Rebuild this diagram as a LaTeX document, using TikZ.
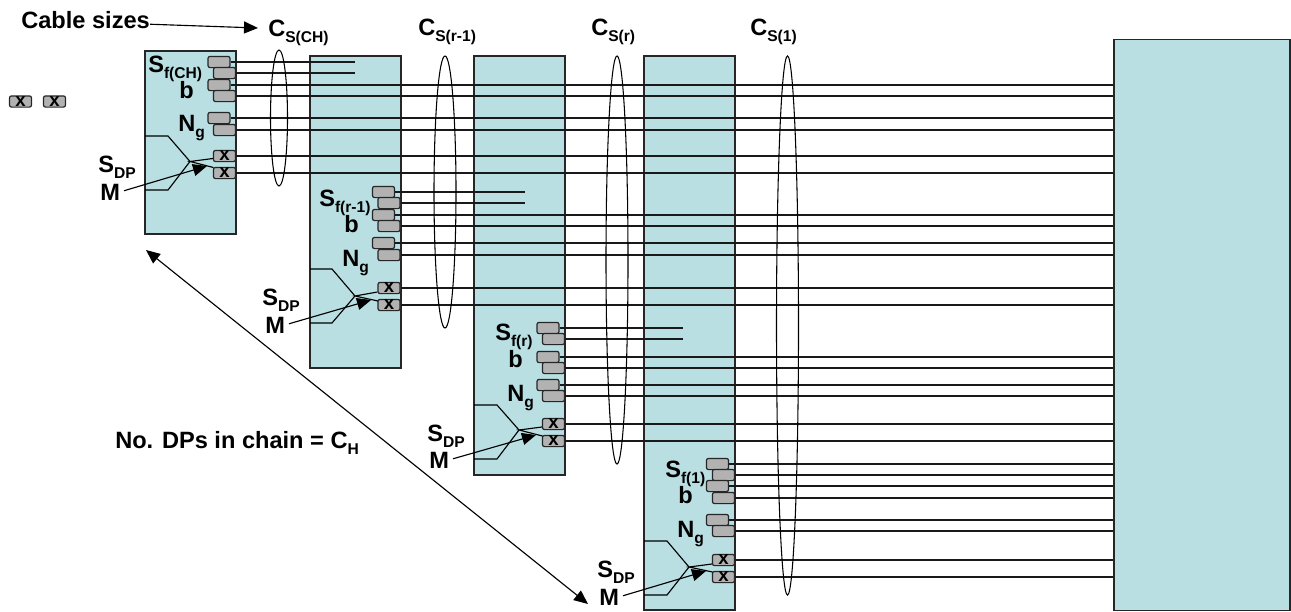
\documentclass[tikz,border=0pt]{standalone}
\usepackage{fontspec}
\setmainfont{Liberation Sans}
\usetikzlibrary{arrows.meta}
\definecolor{dpPanel}{RGB}{185,223,226}
\definecolor{dpChip}{RGB}{178,178,178}
\newcommand{\lowsub}[1]{\raisebox{-4.9pt}{\fontsize{11.7}{12}\selectfont #1}}
\tikzset{
  panelbox/.style={draw=black!85, line width=1.1pt, fill=dpPanel, inner sep=0pt},
  chipbox/.style={draw=black!85, line width=0.9pt, fill=dpChip, rounded corners=1.5pt,
    minimum width=16.5pt, minimum height=8.4pt, inner sep=0pt},
  chipx/.style={chipbox, font=\fontsize{14}{14}\bfseries},
  lbl/.style={anchor=base west, inner sep=0pt, font=\fontsize{17.7}{20}\selectfont\bfseries},
  cableline/.style={line width=0.85pt, black!90},
  thinline/.style={line width=0.85pt, black},
  loopline/.style={line width=0.8pt, black},
  pointer/.style={line width=0.85pt, black, -{Triangle[length=10.5pt,width=9pt]}},
}
\begin{document}
\begin{tikzpicture}[x=0.75pt, y=-0.75pt]
\useasboundingbox (0,0) rectangle (1291,611);
%% Panels
\node[panelbox, minimum width=68.25pt, minimum height=137.25pt] (panelA) at (190.5,142.5) {};
\node[panelbox, minimum width=68.25pt, minimum height=234pt] (panelB) at (355.5,212) {};
\node[panelbox, minimum width=68.25pt, minimum height=314.25pt] (panelC) at (519.5,265.5) {};
\node[panelbox, minimum width=68.25pt, minimum height=415.5pt] (panelD) at (689.5,333) {};
\node[panelbox, minimum width=132pt, minimum height=428pt] (panelBig) at (1202,325) {};
\coordinate (endA) at (355,0);
\coordinate (endB) at (525,0);
\coordinate (endC) at (683,0);
%% Chips of DP 1
\node[chipbox] (a1) at (219,62) {};
\node[chipbox] (a2) at (224.5,73) {};
\node[chipbox] (a3) at (219,85) {};
\node[chipbox] (a4) at (224.5,96) {};
\node[chipbox] (a5) at (219,118) {};
\node[chipbox] (a6) at (224.5,130) {};
\node[chipx] (a7) at (224.5,156) {x};
\node[chipx] (a8) at (224.5,173) {x};
%% Chips of DP 2
\node[chipbox] (b1) at (383.5,192) {};
\node[chipbox] (b2) at (389,203) {};
\node[chipbox] (b3) at (383.5,215) {};
\node[chipbox] (b4) at (389,226) {};
\node[chipbox] (b5) at (383.5,243) {};
\node[chipbox] (b6) at (389,255) {};
\node[chipx] (b7) at (389,288) {x};
\node[chipx] (b8) at (389,305) {x};
%% Chips of DP 3
\node[chipbox] (c1) at (548,328) {};
\node[chipbox] (c2) at (553.5,339) {};
\node[chipbox] (c3) at (548,357) {};
\node[chipbox] (c4) at (553.5,368) {};
\node[chipbox] (c5) at (548,385) {};
\node[chipbox] (c6) at (553.5,396) {};
\node[chipx] (c7) at (553.5,424) {x};
\node[chipx] (c8) at (553.5,441) {x};
%% Chips of DP 4
\node[chipbox] (d1) at (717.5,464) {};
\node[chipbox] (d2) at (723.5,475) {};
\node[chipbox] (d3) at (717.5,486) {};
\node[chipbox] (d4) at (723.5,498) {};
\node[chipbox] (d5) at (717.5,520) {};
\node[chipbox] (d6) at (723.5,531) {};
\node[chipx] (d7) at (723.5,560) {x};
\node[chipx] (d8) at (723.5,577) {x};
%% Legend chips
\node[chipx] (legendA) at (20.5,101.5) {x};
\node[chipx] (legendB) at (54.5,101.5) {x};
%% Cables
\draw[cableline] (a1.east) -- (a1.east -| endA) (a2.east) -- (a2.east -| endA);
\draw[cableline] (a3.east) -- (a3.east -| panelBig.west) (a4.east) -- (a4.east -| panelBig.west)
  (a5.east) -- (a5.east -| panelBig.west) (a6.east) -- (a6.east -| panelBig.west)
  (a7.east) -- (a7.east -| panelBig.west) (a8.east) -- (a8.east -| panelBig.west);
\draw[cableline] (b1.east) -- (b1.east -| endB) (b2.east) -- (b2.east -| endB);
\draw[cableline] (b3.east) -- (b3.east -| panelBig.west) (b4.east) -- (b4.east -| panelBig.west)
  (b5.east) -- (b5.east -| panelBig.west) (b6.east) -- (b6.east -| panelBig.west)
  (b7.east) -- (b7.east -| panelBig.west) (b8.east) -- (b8.east -| panelBig.west);
\draw[cableline] (c1.east) -- (c1.east -| endC) (c2.east) -- (c2.east -| endC);
\draw[cableline] (c3.east) -- (c3.east -| panelBig.west) (c4.east) -- (c4.east -| panelBig.west)
  (c5.east) -- (c5.east -| panelBig.west) (c6.east) -- (c6.east -| panelBig.west)
  (c7.east) -- (c7.east -| panelBig.west) (c8.east) -- (c8.east -| panelBig.west);
\draw[cableline] (d1.east) -- (d1.east -| panelBig.west) (d2.east) -- (d2.east -| panelBig.west)
  (d3.east) -- (d3.east -| panelBig.west) (d4.east) -- (d4.east -| panelBig.west)
  (d5.east) -- (d5.east -| panelBig.west) (d6.east) -- (d6.east -| panelBig.west)
  (d7.east) -- (d7.east -| panelBig.west) (d8.east) -- (d8.east -| panelBig.west);
%% Cable loops
\draw[loopline] (279,118) ellipse (8.5 and 68);
\draw[loopline] (445,192) ellipse (11 and 136);
\draw[loopline] (617,260) ellipse (11 and 204);
\draw[loopline] (787.5,325.5) ellipse (11 and 269.5);
%% Splitters
\coordinate (apexA) at (190,161.5);
\coordinate (apexB) at (355,296);
\coordinate (apexC) at (519,430);
\coordinate (apexD) at (689,567);
\draw[thinline] (145,136) -- (168,136) -- (apexA) -- (168,190) -- (145,190);
\draw[thinline] (a7.west |- 0,158.5) -- (apexA) -- (213.5,167.5);
\draw[thinline] (310,269) -- (332,269) -- (apexB) -- (332,323) -- (310,323);
\draw[thinline] (b7.west |- 0,292) -- (apexB) -- (378,301);
\draw[thinline] (474,405) -- (497,405) -- (apexC) -- (497,459) -- (474,459);
\draw[thinline] (c7.west |- 0,427) -- (apexC) -- (542.5,436);
\draw[thinline] (644,541) -- (667,541) -- (apexD) -- (667,595) -- (644,595);
\draw[thinline] (d7.west |- 0,564) -- (apexD) -- (712.5,572);
%% Labels
\node[lbl] (cableLbl) at (21,28) {Cable sizes};
\node[lbl] (csCH) at (268,36) {C\lowsub{S(CH)}};
\node[lbl] (csR1) at (418,35) {C\lowsub{S(r-1)}};
\node[lbl] (csR) at (591,35) {C\lowsub{S(r)}};
\node[lbl] (csOne) at (750,35) {C\lowsub{S(1)}};
\node[lbl] (sfA) at (148,72) {S\lowsub{f(CH)}};
\node[lbl] (bitA) at (179,98) {b};
\node[lbl] (ngA) at (178,131) {N\lowsub{g}};
\node[lbl] (sdpA) at (98,172) {S\lowsub{DP}};
\node[lbl] (muxA) at (100,200) {M};
\node[lbl] (sfB) at (319,206) {S\lowsub{f(r-1)}};
\node[lbl] (bitB) at (344,232) {b};
\node[lbl] (ngB) at (342,266) {N\lowsub{g}};
\node[lbl] (sdpB) at (262,305) {S\lowsub{DP}};
\node[lbl] (muxB) at (265,333) {M};
\node[lbl] (sfC) at (495,340) {S\lowsub{f(r)}};
\node[lbl] (bitC) at (508,367) {b};
\node[lbl] (ngC) at (507,401) {N\lowsub{g}};
\node[lbl] (sdpC) at (427,441) {S\lowsub{DP}};
\node[lbl] (muxC) at (429,468) {M};
\node[lbl] (sfD) at (665,477) {S\lowsub{f(1)}};
\node[lbl] (bitD) at (678,503) {b};
\node[lbl] (ngD) at (677,537) {N\lowsub{g}};
\node[lbl] (sdpD) at (597,577) {S\lowsub{DP}};
\node[lbl] (muxD) at (599,605) {M};
\node[lbl] (chainLbl) at (115,448) {No. DPs in chain = C\lowsub{H}};
%% Pointers
\coordinate (cableTip) at (258,28);
\coordinate (tipA) at (207,166);
\coordinate (tipB) at (371,300);
\coordinate (tipC) at (536,435);
\coordinate (tipD) at (706,571);
\coordinate (chainTop) at (146,250);
\coordinate (chainEnd) at (588,604);
\draw[pointer] ([yshift=-3.5pt]cableLbl.east) -- (cableTip);
\draw[pointer, shorten <=3pt] (muxA.east) -- (tipA);
\draw[pointer, shorten <=3pt] (muxB.east) -- (tipB);
\draw[pointer, shorten <=3pt] (muxC.east) -- (tipC);
\draw[pointer, shorten <=3pt] (muxD.east) -- (tipD);
\draw[line width=0.85pt, {Triangle[length=10.5pt,width=9pt]}-{Triangle[length=10.5pt,width=9pt]}] (chainTop) -- (chainEnd);
\end{tikzpicture}
\end{document}
